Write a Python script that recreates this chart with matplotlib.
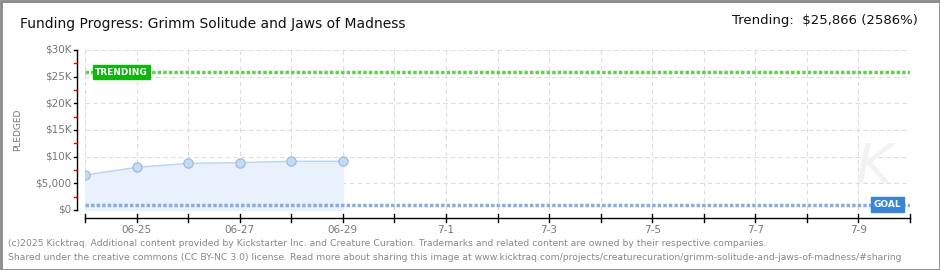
import matplotlib
matplotlib.use("Agg")
import matplotlib.pyplot as plt
from matplotlib.patches import Rectangle
import numpy as np

dates = ["06-24", "06-25", "06-26", "06-27", "06-28", "06-29", "06-30", "7-1", "7-2",
         "7-3", "7-4", "7-5", "7-6", "7-7", "7-8", "7-9", "7-10"]
pledged = [6550, 8000, 8750, 8880, 9130, 9130]
trending = 25866
goal = 1000
ytick_vals = [0, 5000, 10000, 15000, 20000, 25000, 30000]
ytick_labels = ["$0", "$5,000", "$10K", "$15K", "$20K", "$25K", "$30K"]
xtick_labels = ["06-25", "06-27", "06-29", "7-1", "7-3", "7-5", "7-7", "7-9"]

W, H = 940, 270
fig = plt.figure(figsize=(W/100, H/100), dpi=100)
fig.patch.set_facecolor("white")

def ax_rect(l, t, r, b):
    return [l/W, 1-b/H, (r-l)/W, (b-t)/H]

ax = fig.add_axes(ax_rect(85, 50, 910, 210))
n = len(dates)
x = np.arange(len(pledged))
ax.set_xlim(0, n-1)
ax.set_ylim(0, 30000)
for s in ax.spines.values():
    s.set_visible(False)
ax.set_xticks([])
ax.set_yticks([])

# grid
for i in range(n):
    ax.axvline(i, color="#dddddd", lw=0.8, ls=(0, (4, 3)), zorder=0)
for v in ytick_vals:
    ax.axhline(v, color="#dddddd", lw=0.8, ls=(0, (4, 3)), zorder=0)

# area and line
ax.fill_between(x, pledged, 0, color="#e9f2fc", zorder=1)
ax.plot(x, pledged, color="#b8d4f0", lw=1, zorder=2)
ax.scatter(x, pledged, s=45, color="#c2dbf5", edgecolor="#9ab8d8", lw=0.8, zorder=3)

# trending and goal lines
ax.axhline(trending, color="#66cc55", lw=2.5, ls=(0, (1.0, 0.6)), zorder=2)
ax.axhline(goal, color="#88aee0", lw=2.5, ls=(0, (1.0, 0.6)), zorder=2)

ax.text(0.2, trending, "TRENDING", color="white", fontsize=6.5, fontweight="bold",
        va="center", ha="left", zorder=5,
        bbox=dict(boxstyle="square,pad=0.25", fc="#11b511", ec="#11b511"))
ax.text(15.3, goal, "GOAL", color="white", fontsize=6.5, fontweight="bold",
        va="center", ha="left", zorder=5,
        bbox=dict(boxstyle="square,pad=0.3", fc="#3b86d4", ec="#3b86d4"))

# watermark
ax.text(15.3, 8000, "K", fontsize=40, color="#f2f2f2", ha="center", va="center",
        fontstyle="italic", zorder=0)

# y axis
yax = fig.add_axes(ax_rect(76, 50, 77, 210))
yax.set_ylim(0, 30000)
yax.set_xlim(0, 1)
yax.axis("off")
yax.plot([0.5, 0.5], [0, 30000], color="black", lw=1, clip_on=False)
for v, lab in zip(ytick_vals, ytick_labels):
    yax.plot([-2.5, 0.5], [v, v], color="black", lw=1, clip_on=False)
    yax.text(-4.5, v, lab, color="#777777", fontsize=7.5, ha="right", va="center")
for v in np.arange(2500, 30000, 5000):
    yax.plot([-2.5, 0.5], [v, v], color="#dd0000", lw=1, clip_on=False)
fig.text(18/W, 1-130/H, "PLEDGED", rotation=90, fontsize=6.5, color="#777777",
         ha="center", va="center")

# x axis
xax = fig.add_axes(ax_rect(85, 217, 910, 219))
xax.set_xlim(0, n-1)
xax.set_ylim(0, 1)
xax.axis("off")
xax.plot([0, n-1], [0.5, 0.5], color="black", lw=1, clip_on=False)
for i in range(n):
    xax.plot([i, i], [-1.5, 2.5], color="black", lw=1, clip_on=False)
for k, lab in enumerate(xtick_labels):
    xax.text(1 + 2*k, -3.2, lab, color="#777777", fontsize=7.5, ha="center", va="top")

# titles
fig.text(20/W, 1-24/H, "Funding Progress: Grimm Solitude and Jaws of Madness",
         fontsize=10, color="#111111", ha="left", va="center")
fig.text(918/W, 1-21/H, "Trending:  $25,866 (2586%)", fontsize=9.5,
         color="#111111", ha="right", va="center")

fig.text(8/W, 1-243/H, "(c)2025 Kicktraq. Additional content provided by Kickstarter Inc. and Creature Curation. Trademarks and related content are owned by their respective companies.",
         fontsize=6.7, color="#888888", ha="left", va="center")
fig.text(8/W, 1-257/H, "Shared under the creative commons (CC BY-NC 3.0) license. Read more about sharing this image at www.kicktraq.com/projects/creaturecuration/grimm-solitude-and-jaws-of-madness/#sharing",
         fontsize=6.7, color="#888888", ha="left", va="center")

# border
fig.add_artist(Rectangle((0.5/W, 0.5/H), 1-1/W, 1-1/H, transform=fig.transFigure,
                         fill=False, ec="#888888", lw=2))

fig.savefig("out.png", dpi=100, facecolor="white")
